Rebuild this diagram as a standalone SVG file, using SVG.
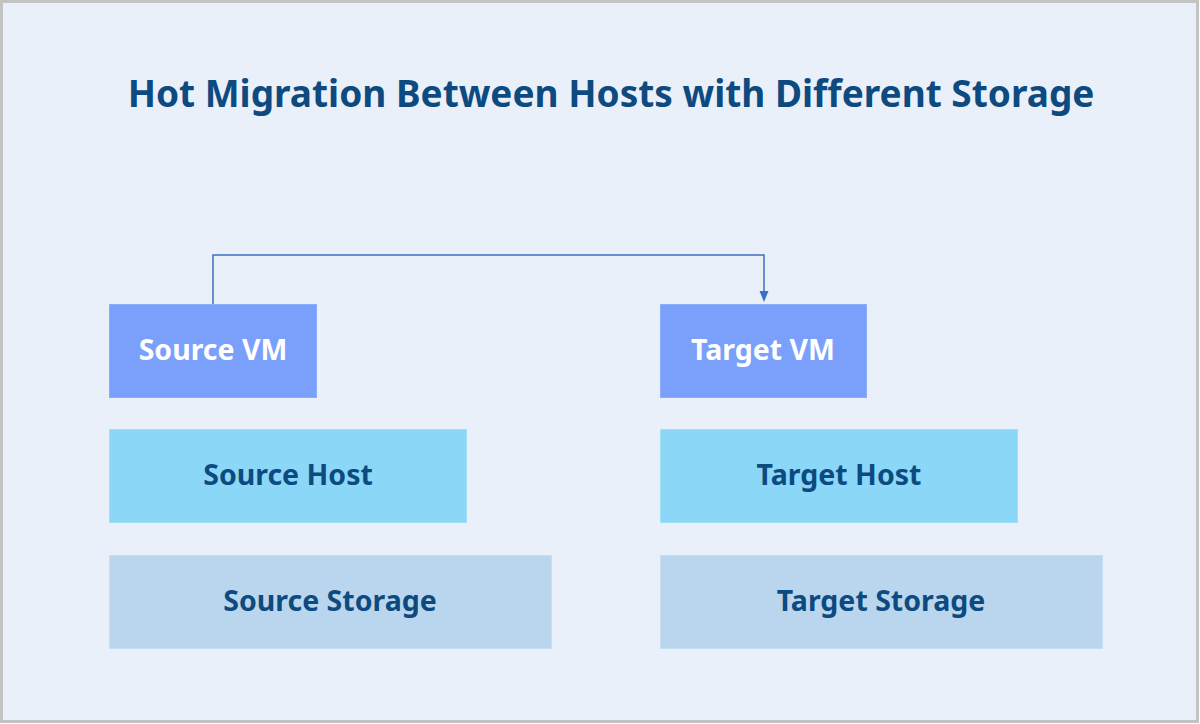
<svg xmlns="http://www.w3.org/2000/svg" width="1200" height="724" viewBox="0 0 1200 724">
<defs>
<style>
.t{font-family:"Noto Sans","Open Sans","Liberation Sans",sans-serif;font-weight:bold;text-anchor:middle;dominant-baseline:central}
.vm{fill:#7ba0fb;stroke:#8aaefc;stroke-width:1}
.host{fill:#8ad7f7;stroke:#9fdff8;stroke-width:1}
.st{fill:#bad6ee;stroke:#c6def2;stroke-width:1}
.lw{fill:#ffffff;font-size:28.5px}
.ld{fill:#0d4a80;font-size:28.5px}
</style>
</defs>
<rect x="1.5" y="1.5" width="1196" height="720" fill="#e9f0fa" stroke="#c3c3c3" stroke-width="3"/>
<text class="t" x="611" y="92" font-size="37" fill="#0d4a80">Hot Migration Between Hosts with Different Storage</text>
<g id="connectors">
<path d="M213,304 V255 H764 V294" fill="none" stroke="#3f6fc4" stroke-width="1.5"/>
<path d="M759.5,291 L768.5,291 L764,302 Z" fill="#3f6fc4"/>
</g>
<g id="source-vm"><rect class="vm" x="109.5" y="304.5" width="207" height="93"/><text class="t lw" x="213" y="349">Source VM</text></g>
<g id="target-vm"><rect class="vm" x="660.5" y="304.5" width="206" height="93"/><text class="t lw" x="763" y="349">Target VM</text></g>
<g id="source-host"><rect class="host" x="109.5" y="429.5" width="357" height="93"/><text class="t ld" x="288" y="474">Source Host</text></g>
<g id="target-host"><rect class="host" x="660.5" y="429.5" width="357" height="93"/><text class="t ld" x="839" y="474">Target Host</text></g>
<g id="source-storage"><rect class="st" x="109.5" y="555.5" width="442" height="93"/><text class="t ld" x="330" y="600">Source Storage</text></g>
<g id="target-storage"><rect class="st" x="660.5" y="555.5" width="442" height="93"/><text class="t ld" x="881" y="600">Target Storage</text></g>
</svg>
